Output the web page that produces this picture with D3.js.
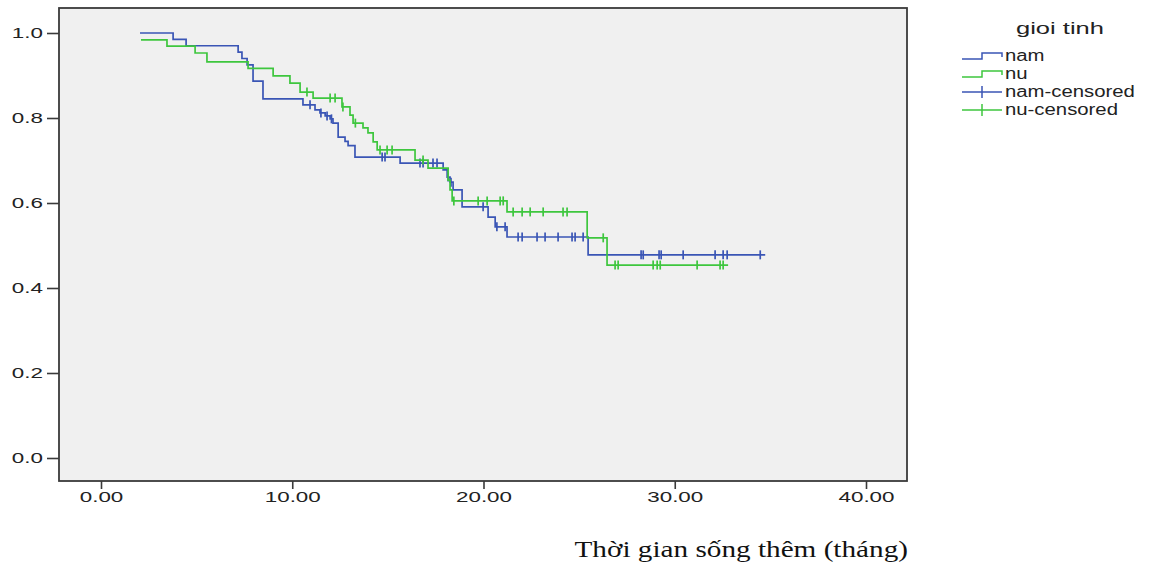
<!DOCTYPE html>
<html><head><meta charset="utf-8">
<script src="https://cdn.jsdelivr.net/npm/d3@7/dist/d3.min.js"></script>
<style>body{margin:0;background:#fff}svg{display:block}</style>
</head><body>
<svg id="c" width="1170" height="566"></svg>
<script>
// Data
const xTicks = [0, 10, 20, 30, 40];
const yTicks = [0.0, 0.2, 0.4, 0.6, 0.8, 1.0];

const namStepTimes = [2.04, 3.77, 4.45, 7.17, 7.37, 7.64, 7.95, 8.47, 10.56, 11.19, 11.45, 11.72, 11.98, 12.13, 12.40, 12.76, 12.92, 13.28, 15.64, 17.89, 18.10, 18.25, 18.41, 18.88, 20.24, 20.61, 21.23, 25.47];
const namStepSurv  = [1.0, 0.985, 0.97, 0.955, 0.94, 0.925, 0.887, 0.845, 0.831, 0.819, 0.812, 0.805, 0.798, 0.788, 0.755, 0.745, 0.735, 0.708, 0.694, 0.678, 0.661, 0.649, 0.631, 0.591, 0.567, 0.544, 0.52, 0.478];
const namEnd = 34.73;
const namCensored = [10.93, 11.5, 11.82, 12.05, 14.70, 14.85, 16.68, 16.84, 17.36, 17.57, 18.15, 18.3, 19.98, 20.7, 21.13, 21.81, 22.02, 22.80, 23.22, 23.90, 24.63, 24.79, 25.21, 28.24, 28.35, 29.18, 29.29, 30.44, 32.11, 32.53, 32.74, 34.47];

const nuStepTimes = [2.09, 3.45, 4.92, 5.54, 7.69, 9.00, 9.88, 10.41, 11.09, 12.60, 13.02, 13.18, 13.70, 13.96, 14.23, 14.44, 16.42, 17.10, 18.15, 18.25, 18.36, 21.23, 25.42, 26.46];
const nuStepSurv  = [0.984, 0.969, 0.953, 0.932, 0.917, 0.899, 0.882, 0.861, 0.847, 0.826, 0.807, 0.788, 0.777, 0.765, 0.744, 0.725, 0.701, 0.682, 0.654, 0.631, 0.605, 0.579, 0.518, 0.454];
const nuEnd = 32.79;
const nuCensored = [10.77, 11.98, 12.24, 12.65, 13.3, 14.59, 14.96, 15.22, 16.84, 18.45, 19.72, 20.19, 20.87, 21.03, 21.55, 22.02, 22.44, 23.12, 24.16, 24.37, 26.26, 26.88, 27.04, 28.87, 29.08, 29.24, 31.17, 32.37, 32.53];

const groupNames = ["nam", "nu"];
const legendLabels = ["nam", "nu", "nam-censored", "nu-censored"];
const colors = {nam: "#3a55b5", nu: "#3ec63e"};

const svg = d3.select("#c");
const L = 59, T = 8, R = 907, B = 481;
const x = d3.scaleLinear().domain([0, 40]).range([101, 866]);
const y = d3.scaleLinear().domain([0, 1]).range([458, 33]);
const SANS = "'Liberation Sans', Arial, sans-serif";

function stretch(sel, f) {
  sel.each(function () {
    const w = this.getComputedTextLength();
    d3.select(this).attr("textLength", w * f).attr("lengthAdjust", "spacingAndGlyphs");
  });
}

svg.append("rect").attr("x", L).attr("y", T).attr("width", R - L).attr("height", B - T)
  .attr("fill", "#f0f0f0");

const groups = [
  {name: "nam", t: namStepTimes, s: namStepSurv, end: namEnd, c: namCensored},
  {name: "nu", t: nuStepTimes, s: nuStepSurv, end: nuEnd, c: nuCensored}
];

function survAt(g, tt) {
  let v = g.s[0];
  for (let i = 0; i < g.t.length; i++) if (g.t[i] <= tt) v = g.s[i];
  return v;
}

groups.forEach(g => {
  const pts = g.t.map((t, i) => [t, g.s[i]]);
  pts.push([g.end, g.s[g.s.length - 1]]);
  svg.append("path").datum(pts)
    .attr("d", d3.line().curve(d3.curveStepAfter).x(d => x(d[0])).y(d => y(d[1])))
    .attr("fill", "none").attr("stroke", colors[g.name]).attr("stroke-width", 1.7);
  svg.append("g").selectAll("line").data(g.c).join("line")
    .attr("x1", d => x(d)).attr("x2", d => x(d))
    .attr("y1", d => y(survAt(g, d)) - 4.5).attr("y2", d => y(survAt(g, d)) + 4.5)
    .attr("stroke", colors[g.name]).attr("stroke-width", 1.7);
});

// frame
svg.append("rect").attr("x", L).attr("y", T).attr("width", R - L).attr("height", B - T)
  .attr("fill", "none").attr("stroke", "#3a3a3a").attr("stroke-width", 1.8);

// axes
const yAxis = svg.append("g").attr("transform", `translate(${L},0)`)
  .call(d3.axisLeft(y).tickValues(yTicks).tickFormat(d3.format(".1f")).tickSize(12).tickPadding(4));
const xAxis = svg.append("g").attr("transform", `translate(0,${B})`)
  .call(d3.axisBottom(x).tickValues(xTicks).tickFormat(d3.format(".2f")).tickSize(8).tickPadding(3));
[yAxis, xAxis].forEach(a => {
  a.select(".domain").remove();
  a.selectAll(".tick line").attr("stroke", "#3a3a3a").attr("stroke-width", 1.6);
  a.selectAll(".tick text").attr("fill", "#222").style("font-family", SANS).style("font-size", "14px");
  stretch(a.selectAll(".tick text"), 1.6);
});

const xt = svg.append("text").attr("x", 908).attr("y", 557).attr("text-anchor", "end")
  .style("font-family", "'Liberation Serif', 'Times New Roman', serif").style("font-size", "23px")
  .attr("fill", "#111").text("Thời gian sống thêm (tháng)");
stretch(xt, 1.27);

// legend
const lg = svg.append("g");
const lt = lg.append("text").attr("x", 1060).attr("y", 34).attr("text-anchor", "middle")
  .style("font-family", SANS).style("font-size", "17px").attr("fill", "#222").text("gioi tinh");
stretch(lt, 1.5);
legendLabels.forEach((lab, i) => {
  const yy = 56 + i * 18;
  const col = colors[groupNames[i % 2]];
  if (i < 2) {
    lg.append("path").attr("d", `M962,${yy + 3}H982V${yy - 3}H1002V${yy + 1}`)
      .attr("fill", "none").attr("stroke", col).attr("stroke-width", 1.5);
  } else {
    lg.append("line").attr("x1", 962).attr("x2", 1002).attr("y1", yy).attr("y2", yy).attr("stroke", col).attr("stroke-width", 1.5);
    lg.append("line").attr("x1", 982).attr("x2", 982).attr("y1", yy - 6).attr("y2", yy + 6).attr("stroke", col).attr("stroke-width", 1.5);
  }
  const t = lg.append("text").attr("x", 1005).attr("y", yy + 5)
    .style("font-family", SANS).style("font-size", "16px").attr("fill", "#222").text(lab);
  stretch(t, 1.27);
});
</script>
</body></html>
